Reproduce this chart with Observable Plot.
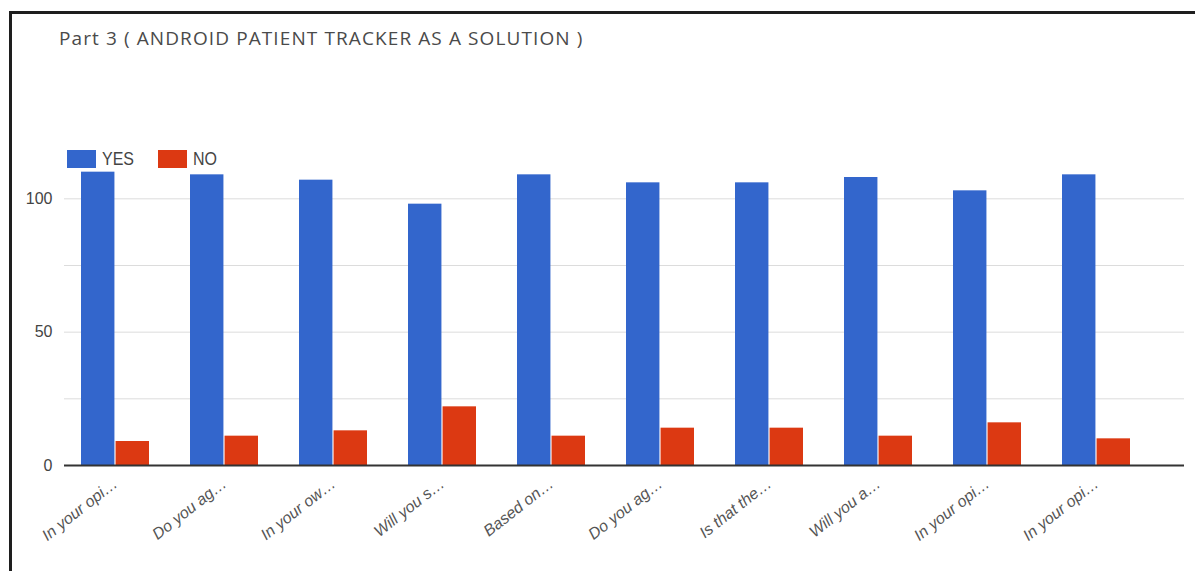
<!DOCTYPE html>
<html>
<head>
<meta charset="utf-8">
<script src="https://cdn.jsdelivr.net/npm/d3@7"></script>
<script src="https://cdn.jsdelivr.net/npm/@observablehq/plot@0.6"></script>
<style>
  html, body { margin: 0; padding: 0; background: #fff; overflow: hidden; }
  #wrap { position: relative; width: 1195px; height: 571px; }
  #frame { position: absolute; left: 9px; top: 11px; right: -10px; bottom: -10px;
           border-left: 3px solid #1e1e1e; border-top: 3px solid #1e1e1e; }
  #title { position: absolute; left: 59px; top: 29px; font-family: "Open Sans", "Liberation Sans", sans-serif;
           font-size: 19px; letter-spacing: 1.1px; color: #4a4a4a; line-height: 1; white-space: nowrap; }
  #legend { position: absolute; left: 67px; top: 150px; display: flex; align-items: center;
            font-family: "Liberation Sans", Arial, sans-serif; font-size: 16px; color: #444; }
  #legend .sw { display: inline-block; width: 29px; height: 18px; margin-right: 6px; }
  #legend .tx { display: inline-block; transform: scaleY(1.15); }
  #legend .it { display: flex; align-items: center; margin-right: 24px; }
  #chart { position: absolute; left: 0; top: 0; }
</style>
</head>
<body>
<div id="wrap">
  <div id="frame"></div>
  <div id="chart"></div>
  <div id="title">Part 3 ( ANDROID PATIENT TRACKER AS A SOLUTION )</div>
  <div id="legend"></div>
</div>
<script>
// Data
const questions = ["In your opi…", "Do you ag…", "In your ow…", "Will you s…", "Based on…", "Do you ag…", "Is that the…", "Will you a…", "In your opi…", "In your opi…"];
const yesValues = [110, 109, 107, 98, 109, 106, 106, 108, 103, 109];
const noValues  = [9, 11, 13, 22, 11, 14, 14, 11, 16, 10];
const seriesNames = ["YES", "NO"];
const seriesColors = ["#3366cc", "#dc3912"];
const yTicks = [0, 50, 100];
const yGrid = [25, 50, 75, 100];

const idx = d3.range(questions.length);
const rows = idx.flatMap(i => [
  {q: i, series: "YES", value: yesValues[i]},
  {q: i, series: "NO", value: noValues[i]}
]);

const xRange = [56, 1155];
const pInner = 0.38, pOuter = 0.19;
const step = (xRange[1] - xRange[0]) / (idx.length - pInner + 2 * pOuter);
const bw = step * (1 - pInner);
const half = bw / 2;

const chart = Plot.plot({
  width: 1195,
  height: 571,
  marginTop: 145,
  marginBottom: 106,
  marginLeft: 64,
  marginRight: 11,
  style: {background: "transparent", overflow: "visible"},
  x: {domain: idx, range: xRange, paddingInner: pInner, paddingOuter: pOuter, axis: null, label: null},
  y: {domain: [0, 120], axis: null, label: null},
  color: {domain: seriesNames, range: seriesColors},
  marks: [
    Plot.ruleY(yGrid, {stroke: "#dcdcdc", strokeWidth: 1}),
    Plot.barY(rows.filter(d => d.series === "YES"), {x: "q", y1: 0, y2: "value", fill: "series", insetRight: half + 0.5}),
    Plot.barY(rows.filter(d => d.series === "NO"), {x: "q", y1: 0, y2: "value", fill: "series", insetLeft: half + 0.5}),
    Plot.ruleY([0], {stroke: "#333", strokeWidth: 2}),
    Plot.axisY({ticks: yTicks, tickSize: 0, tickPadding: 12, tickFormat: d => String(d), label: null,
      fontFamily: "'Liberation Sans', Arial, sans-serif", fontSize: 16, fill: "#444"}),
    Plot.axisX({tickFormat: i => questions[i], tickRotate: -38, tickSize: 0, tickPadding: 16, label: null,
      fontFamily: "'Liberation Sans', Arial, sans-serif", fontSize: 16, fontStyle: "italic", fill: "#555"})
  ]
});
document.getElementById("chart").appendChild(chart);

const legend = document.getElementById("legend");
seriesNames.forEach((name, k) => {
  const it = document.createElement("span");
  it.className = "it";
  const sw = document.createElement("span");
  sw.className = "sw";
  sw.style.background = seriesColors[k];
  const tx = document.createElement("span");
  tx.className = "tx";
  tx.textContent = name;
  it.appendChild(sw);
  it.appendChild(tx);
  legend.appendChild(it);
});
</script>
</body>
</html>
